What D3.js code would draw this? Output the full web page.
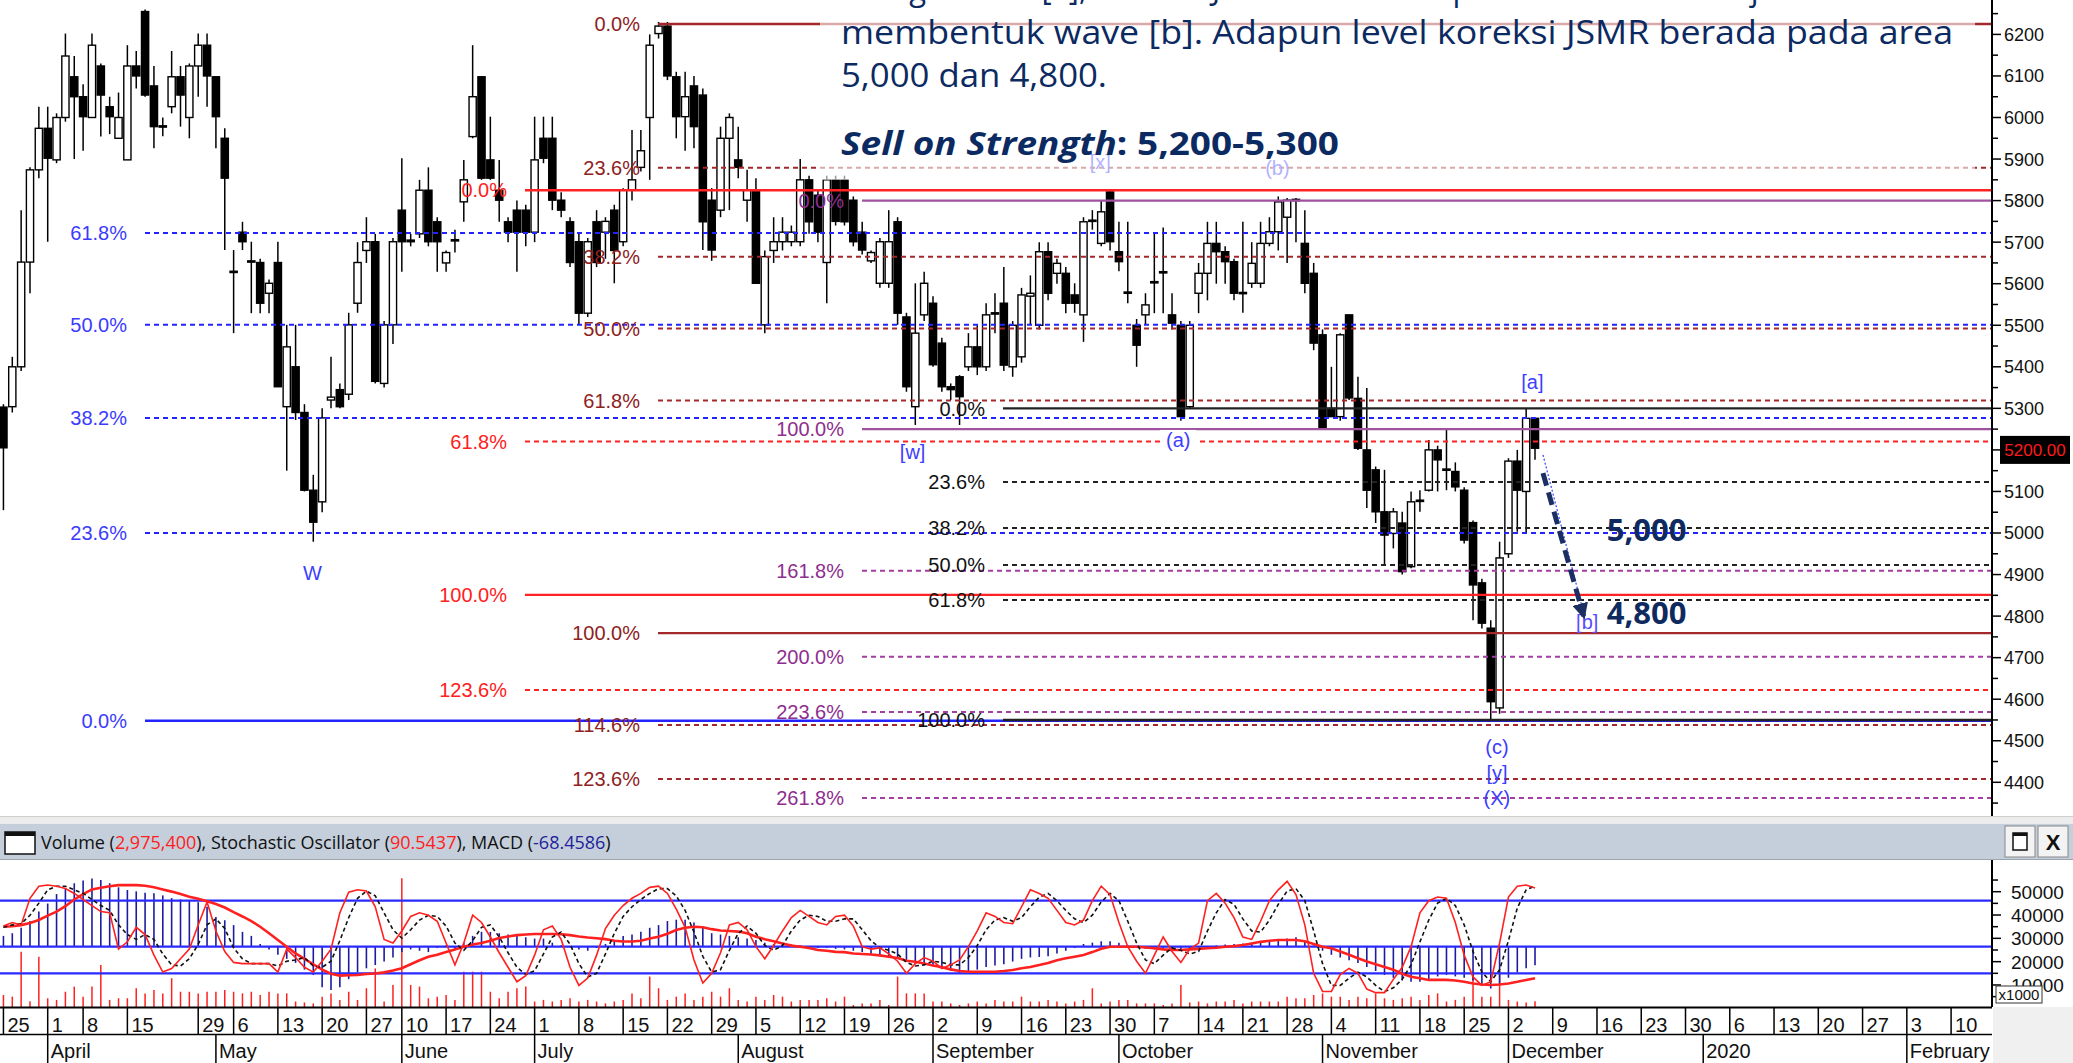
<!DOCTYPE html>
<html><head><meta charset="utf-8">
<script src="https://cdnjs.cloudflare.com/ajax/libs/d3/7.8.5/d3.min.js"></script>
<style>body{margin:0;background:#fff;overflow:hidden}svg{display:block}</style>
</head><body><svg id="c" width="2073" height="1063"></svg>
<script>
// ---------------- DATA ----------------
const openP=[5303,5304,5400,5652,5874,5974,5898,6000,6098,6050,
6000,6124,6026,5950,5898,6124,6255,6076,5980,6026,
6098,6000,6124,6174,6098,5950,5630,5724,5655,5651,
5577,5651,5304,5400,5290,5103,5075,5320,5345,5334,
5553,5680,5701,5360,5501,5777,5705,5720,5825,5749,
5650,5705,5797,5954,6098,5898,5825,5749,5777,5777,
5724,5950,5950,5801,5749,5701,5529,5749,5724,5777,
5701,5825,5880,6000,6202,6220,6098,6002,6076,6054,
5801,5777,5950,5898,5801,5825,5501,5680,5701,5701,
5701,5850,5813,5651,5850,5850,5801,5724,5655,5601,
5601,5749,5520,5304,5525,5553,5457,5352,5376,5400,
5448,5400,5530,5553,5400,5424,5570,5500,5677,5625,
5625,5573,5525,5750,5697,5821,5677,5580,5500,5525,
5604,5628,5525,5500,5304,5577,5625,5697,5677,5653,
5579,5601,5601,5697,5725,5760,5801,5697,5625,5477,
5300,5280,5525,5324,5200,5152,5051,4999,5024,4919,
5078,5103,5200,5152,5148,5103,5025,4880,4771,4579,
4950,5173,5100,5276];
const highP=[5310,5424,5777,5880,6026,6026,6010,6202,6148,6080,
6202,6130,6050,6060,6174,6160,6260,6124,6000,6160,
6124,6130,6202,6202,6100,5974,5681,5749,5701,5660,
5610,5701,5501,5501,5310,5140,5300,5424,5360,5530,
5700,5760,5720,5510,5710,5902,5720,5850,5880,5760,
5680,5730,5898,6174,6100,6002,5898,5760,5800,5790,
6002,6002,6002,5820,5760,5720,5710,5777,5760,5790,
5830,5970,5970,6200,6230,6230,6110,6110,6100,6070,
5830,5978,6010,5978,5874,5854,5680,5760,5760,5740,
5900,5860,5825,5860,5860,5860,5810,5749,5680,5710,
5777,5760,5530,5601,5629,5570,5470,5360,5380,5481,
5500,5553,5577,5640,5510,5590,5620,5700,5700,5660,
5640,5601,5760,5777,5801,5825,5749,5749,5515,5577,
5724,5735,5577,5510,5510,5650,5749,5749,5690,5660,
5749,5700,5749,5760,5810,5806,5806,5777,5650,5490,
5400,5481,5525,5376,5349,5160,5152,5060,5051,5100,
5103,5224,5210,5248,5170,5110,5030,4890,4790,4979,
5180,5200,5300,5276];
const lowP=[5055,5290,5390,5577,5854,5701,5890,5990,5900,5920,
6000,5954,5960,5950,5898,6070,6050,5926,5955,6010,
5978,5950,6050,6026,5926,5681,5481,5681,5529,5529,
5529,5352,5150,5272,5100,4979,5050,5300,5300,5320,
5530,5650,5360,5350,5455,5629,5690,5710,5690,5629,
5629,5675,5749,5950,5850,5850,5749,5700,5629,5690,
5700,5890,5777,5760,5640,5501,5520,5640,5660,5601,
5690,5800,5870,5850,6190,6090,5950,5920,5926,5681,
5655,5760,5777,5854,5749,5600,5481,5650,5680,5690,
5690,5720,5700,5553,5740,5740,5690,5670,5650,5590,
5590,5501,5340,5260,5510,5400,5340,5320,5260,5390,
5380,5390,5481,5390,5376,5410,5500,5490,5560,5600,
5529,5530,5460,5730,5690,5680,5630,5553,5400,5501,
5529,5529,5490,5270,5300,5529,5560,5600,5600,5560,
5530,5590,5590,5690,5680,5650,5700,5577,5440,5250,
5280,5270,5320,5200,5060,5024,4923,4963,4900,4915,
5051,5100,5100,5103,5100,4975,4790,4770,4550,4565,
4940,5003,5000,5176];
const closeP=[5205,5400,5652,5874,5974,5902,6000,6148,6050,6002,
6174,6054,6002,6000,6124,6100,6054,5978,5978,6098,
6054,6124,6174,6100,6002,5854,5629,5701,5655,5553,
5601,5352,5448,5290,5103,5026,5277,5327,5304,5501,
5651,5701,5365,5501,5701,5701,5701,5825,5701,5701,
5675,5706,5850,6050,5854,5854,5801,5724,5724,5724,
5898,5902,5801,5777,5651,5529,5701,5651,5750,5680,
5825,5850,5920,6174,6220,6100,6002,6050,5978,5749,
5681,5950,6000,5880,5825,5601,5665,5701,5724,5724,
5850,5749,5724,5850,5750,5749,5701,5681,5675,5701,
5701,5529,5352,5481,5601,5405,5352,5345,5328,5448,
5400,5525,5529,5404,5500,5573,5577,5677,5577,5649,
5553,5553,5749,5753,5773,5701,5653,5578,5452,5549,
5605,5629,5505,5280,5500,5625,5697,5677,5653,5577,
5578,5649,5697,5725,5797,5801,5803,5601,5457,5253,
5280,5477,5325,5204,5103,5051,4995,5051,4907,5075,
5079,5200,5176,5154,5111,4983,4875,4783,4594,4940,
5173,5103,5276,5204];
const volumeK=[5700,5000,24300,3000,22100,4300,3600,7100,9300,5000,
9300,18600,3600,4300,4300,8600,6400,7900,6400,12900,
7100,7100,6400,7100,7100,7900,7100,6400,7100,5700,
7100,6400,6400,2900,2500,2100,5000,6400,3600,7100,
3600,8600,17100,2900,10000,55800,10000,9300,4300,5000,
5700,3600,15700,15700,15700,7100,4300,7100,8600,9300,
2900,3600,2900,3600,4300,2900,3600,2900,2100,2900,
3600,6400,4300,13600,8600,3600,5000,6400,3600,5000,
7100,5000,8600,3600,2900,5000,3600,5700,5000,2900,
3600,3600,3600,4300,2900,5000,1400,2100,2100,3600,
1400,13600,6400,6400,6400,2900,2900,2100,1400,2100,
2900,2100,3600,2900,2900,5000,2900,2900,3600,2900,
2100,2900,3600,8600,2100,2900,3600,3600,2100,2100,
2100,1400,2100,10000,2500,2900,2100,2900,2900,3600,
2100,2900,2900,2900,2900,5000,4300,4300,5700,6400,
5000,5000,3600,5000,4300,6400,4300,3600,4300,5000,
3600,5700,6400,2900,3600,5000,15700,5000,5000,15700,
3600,2900,2500,2975];
const stochK=[59,62,60,82,92,93,92,90,86,81,
76,71,70,40,46,58,52,35,21,24,
32,40,60,79,55,38,29,28,28,28,
28,21,40,33,25,21,30,40,70,87,
89,88,75,48,45,55,67,70,68,63,
45,27,45,68,62,50,37,25,13,18,
35,56,59,48,25,10,16,35,57,68,
76,82,86,91,92,86,73,58,31,12,
20,37,60,62,56,42,32,43,55,66,
72,67,62,60,67,68,59,42,40,41,
36,30,20,28,33,30,24,27,31,42,
55,70,67,62,61,75,89,86,82,72,
62,60,64,80,92,85,62,42,30,20,
35,50,38,29,40,45,80,86,78,66,
50,48,63,80,89,96,85,60,20,5,
5,19,24,20,7,4,4,15,25,42,
70,80,83,82,62,35,17,10,13,45,
83,92,93,90.54];
const stochD=[58,60,61,68,78,89,92,92,89,86,
81,76,72,60,52,48,52,48,36,27,
26,32,44,60,65,57,41,32,28,28,
28,26,30,31,33,26,25,30,47,66,
82,88,84,70,56,49,56,64,68,67,
59,45,39,47,58,60,50,37,25,19,
22,36,50,54,44,28,17,20,36,53,
67,75,81,86,90,90,84,72,54,34,
21,23,39,53,59,53,43,39,43,55,
64,68,67,63,63,65,65,56,47,41,
39,36,29,26,27,30,29,27,27,33,
43,56,64,66,63,66,75,83,86,80,
72,65,62,68,79,86,80,63,45,31,
28,35,41,39,36,38,55,70,81,77,
65,55,54,64,77,88,90,80,55,28,
10,10,16,21,17,10,5,8,15,27,
46,64,78,82,76,60,38,21,13,23,
47,74,89,92];
const macdHist=[40,50,70,95,130,160,195,215,235,245,
253,247,235,220,210,205,200,198,190,180,
175,170,165,148,110,98,80,55,40,10,
-10,-30,-45,-60,-85,-105,-150,-160,-150,-120,
-95,-80,-68,-55,-40,-20,-10,-15,-20,-5,
5,-10,15,40,55,55,50,45,40,35,
30,30,15,5,0,-10,-15,-5,10,25,
40,45,55,70,80,95,100,100,90,70,
50,45,40,35,30,25,15,10,10,8,
5,0,-5,-5,-8,-10,-15,-20,-30,-35,
-40,-45,-55,-65,-70,-72,-80,-90,-100,-95,
-85,-75,-70,-65,-55,-45,-40,-38,-35,-25,
-15,-5,10,15,20,20,15,5,-5,-8,
-10,-8,-12,-15,-12,-8,0,5,8,10,
12,15,18,22,25,30,35,20,5,-15,
-30,-40,-50,-60,-75,-90,-105,-115,-125,-130,
-130,-120,-110,-105,-110,-115,-125,-140,-155,-140,
-115,-95,-80,-68.46];
const macdSignal=[74,76,80,88,99,115,130,150,175,195,
212,218,224,228,228,228,226,220,212,204,
195,185,178,168,158,145,128,112,95,74,
50,25,0,-25,-45,-65,-85,-100,-107,-106,
-105,-101,-99,-95,-88,-80,-65,-50,-37,-30,
-20,-10,0,8,14,22,32,38,43,45,
47,47,47,46,43,38,34,31,28,22,
19,19,22,30,37,48,62,70,74,72,
65,60,58,56,50,37,28,20,12,4,
0,-5,-12,-15,-19,-20,-25,-27,-29,-32,
-37,-42,-52,-56,-62,-70,-76,-84,-90,-93,
-93,-93,-93,-90,-86,-80,-75,-68,-60,-50,
-43,-37,-31,-20,-8,0,0,0,0,-3,
-6,-10,-12,-12,-10,-8,-6,-4,0,2,
6,12,18,22,25,25,25,20,10,0,
-6,-18,-30,-43,-55,-65,-75,-85,-100,-111,
-117,-123,-123,-123,-125,-130,-136,-140,-142,-140,
-136,-130,-123,-117];

const priceTicks=[4400,4500,4600,4700,4800,4900,5000,5100,5200,5300,5400,5500,5600,5700,5800,5900,6000,6100,6200];
const volTicks=[10000,20000,30000,40000,50000];
const weekTickIdx=[0,5,9,14,22,26,31,36,41,45,50,55,60,65,70,75,80,85,90,95,100,105,110,115,120,125,130,135,140,145,150,155,160,165,170,175,180,185,190,195,200,205,210,215,220];
const weekTickLabels=["25","1","8","15","29","6","13","20","27","10","17","24","1","8","15","22","29","5","12","19","26","2","9","16","23","30","7","14","21","28","4","11","18","25","2","9","16","23","30","6","13","20","27","3","10"];
const monthIdx=[5,24,45,60,83,105,126,149,170,192,215];
const monthLabels=["April","May","June","July","August","September","October","November","December","2020","February"];

const fibBlueLabels=["0.0%","23.6%","38.2%","50.0%","61.8%"];
const fibBluePrices=[4548,5000,5277,5501,5722];
const fibDarkLabels=["0.0%","23.6%","38.2%","50.0%","61.8%","100.0%","114.6%","123.6%"];
const fibDarkPrices=[6225,5879,5665,5492,5319,4759,4538,4408];
const fibRedLabels=["0.0%","61.8%","100.0%","123.6%"];
const fibRedPrices=[5825,5220,4851,4622];
const fibPurpleLabels=["0.0%","100.0%","161.8%","200.0%","223.6%","261.8%"];
const fibPurplePrices=[5800,5250,4909,4702,4569,4362];
const fibBlackLabels=["0.0%","23.6%","38.2%","50.0%","61.8%","100.0%"];
const fibBlackPrices=[5300,5123,5012,4923,4839,4550];

const waveLabels=["W","[w]","(a)","[x]","(b)","[a]","(c)","[y]","(X)","[b]"];
const waveIdx=[34.9,102.7,132.7,123.9,143.9,172.7,168.7,168.7,168.7,178.9];
const wavePrice=[4904,5195,5224,5893,5878,5363,4485,4424,4362,4786];
const targetLabels=["5,000","4,800"];
const targetPrices=[5007,4807];
const lastPrice=5200;

const textLines=["sebagai wave [a], dimana JSMR saat ini berpotensi untuk melanjutkan koreksi",
"membentuk wave [b]. Adapun level koreksi JSMR berada pada area",
"5,000 dan 4,800."];
const sellLabel=["Sell on Strength",": 5,200-5,300"];

// --------------- SCALES ---------------
const svg=d3.select("#c");
const AX=1992;
const x=d3.scaleLinear().domain([0,220]).range([3.44,3.44+8.853*220]);
const yP=d3.scaleLinear().domain([4400,6200]).range([782.3,34.4]);
const yVol=d3.scaleLinear().domain([0,50000]).range([1008.3,891.7]);
const yStoch=d3.scaleLinear().domain([0,100]).range([997.5,876.5]);
const yMacd=d3.scaleLinear().domain([0,100]).range([946.7,919.7]);
const F="'Liberation Sans',Arial,sans-serif";

const defs=svg.append("defs");
defs.append("clipPath").attr("id","cm").append("rect").attr("x",0).attr("y",0).attr("width",AX).attr("height",816);
defs.append("clipPath").attr("id","ci").append("rect").attr("x",0).attr("y",860).attr("width",AX).attr("height",147);
defs.append("marker").attr("id","ah").attr("viewBox","0 0 10 10").attr("refX",8).attr("refY",5)
 .attr("markerWidth",3.2).attr("markerHeight",3.2).attr("orient","auto")
 .append("path").attr("d","M0,0L10,5L0,10z").attr("fill","#1b2f63");

svg.append("rect").attr("width",2073).attr("height",1063).attr("fill","#fff");

// --------------- CANDLES ---------------
const n=openP.length;
const candles=d3.range(n).map(i=>({i,o:openP[i],h:highP[i],l:lowP[i],c:closeP[i]}));
const gC=svg.append("g").attr("clip-path","url(#cm)");
gC.selectAll("line.wk").data(candles).join("line").attr("class","wk")
 .attr("x1",d=>x(d.i)).attr("x2",d=>x(d.i)).attr("y1",d=>yP(d.h)).attr("y2",d=>yP(d.l))
 .attr("stroke","#000").attr("stroke-width",1.5);
gC.selectAll("rect.bd").data(candles).join("rect").attr("class","bd")
 .attr("x",d=>x(d.i)-3.6).attr("width",7.2)
 .attr("y",d=>yP(Math.max(d.o,d.c)))
 .attr("height",d=>Math.max(1.3,Math.abs(yP(d.o)-yP(d.c))))
 .attr("fill",d=>d.c>=d.o?"#fff":"#000").attr("stroke","#000").attr("stroke-width",1.4);

// --------------- FIB LINES ---------------
const gF=svg.append("g").attr("clip-path","url(#cm)");
function fib(labels,prices,lineCol,solidCol,txtCol,labelRight,lineStart){
  labels.forEach((lab,k)=>{
    const yy=yP(prices[k]);const solid=(lab==="0.0%"||lab==="100.0%");
    gF.append("line").attr("x1",lineStart).attr("x2",AX).attr("y1",yy).attr("y2",yy)
      .attr("stroke",solid?solidCol:lineCol).attr("stroke-width",solid?2.4:2)
      .attr("stroke-dasharray",solid?null:"5,4");
    gF.append("text").attr("x",labelRight).attr("y",yy).attr("dy","0.36em").attr("text-anchor","end")
      .attr("fill",txtCol).style("font","20px "+F).text(lab);
  });
}
fib(fibBlueLabels,fibBluePrices,"#2323ff","#2323ff","#3b3bff",127,145);
fib(fibDarkLabels,fibDarkPrices,"#a3282b","#a3282b","#8e2222",640,658);
fib(fibRedLabels,fibRedPrices,"#ff2222","#ff2222","#ff2020",507,525);
fib(fibPurpleLabels,fibPurplePrices,"#a33ea3","#a052a0","#8e2e8e",844,862);
fib(fibBlackLabels,fibBlackPrices,"#222","#222","#111",985,1003);

// --------------- WAVE LABELS ---------------
const gW=svg.append("g");
waveLabels.forEach((w,k)=>{
  const cx=x(waveIdx[k]),cy=yP(wavePrice[k]);
  if(w==="(a)") gW.append("rect").attr("x",cx-18).attr("y",cy-10).attr("width",36).attr("height",20).attr("fill","#fff");
  gW.append("text").attr("x",cx).attr("y",cy).attr("dy","0.36em").attr("text-anchor","middle")
    .attr("fill",w==="[b]"?"#5a4cff":"#3d3dff").style("font","20px "+F).text(w);
});

// --------------- TEXT BLOCK ---------------
svg.append("rect").attr("x",820).attr("y",0).attr("width",1155).attr("height",180).attr("fill","#fff").attr("opacity",0.6);
const TF="'Open Sans','Noto Sans',sans-serif";
const navy="#0c2a62";
svg.append("text").attr("x",841).attr("y",0).attr("fill",navy).style("font","32px "+TF)
  .attr("textLength",1112).attr("lengthAdjust","spacingAndGlyphs").text(textLines[0]);
svg.append("text").attr("x",841).attr("y",44).attr("fill",navy).style("font","32px "+TF)
  .attr("textLength",1112).attr("lengthAdjust","spacingAndGlyphs").text(textLines[1]);
svg.append("text").attr("x",841).attr("y",87).attr("fill",navy).style("font","32px "+TF)
  .attr("textLength",266).attr("lengthAdjust","spacingAndGlyphs").text(textLines[2]);
const st=svg.append("text").attr("x",841).attr("y",155).attr("fill",navy).style("font","bold 32px "+TF)
  .attr("textLength",498).attr("lengthAdjust","spacingAndGlyphs");
st.append("tspan").style("font-style","italic").text(sellLabel[0]);
st.append("tspan").text(sellLabel[1]);

// --------------- TARGETS & ARROW ---------------
targetLabels.forEach((t,k)=>{
  svg.append("text").attr("x",x(181.1)).attr("y",yP(targetPrices[k])).attr("dy","0.36em")
    .attr("fill","#0e2a5e").style("font","bold 31px "+TF).text(t);
});
svg.append("line").attr("x1",x(173.9)).attr("y1",yP(5188)).attr("x2",x(178.4)).attr("y2",yP(4815))
  .attr("stroke","#3344ff").attr("stroke-width",1.2).attr("stroke-dasharray","2,2");
svg.append("line").attr("x1",x(173.9)).attr("y1",yP(5144)).attr("x2",x(178.5)).attr("y2",yP(4800))
  .attr("stroke","#1b2f63").attr("stroke-width",5).attr("stroke-dasharray","13,7").attr("marker-end","url(#ah)");

// --------------- PRICE AXIS ---------------
const gA=svg.append("g");
gA.append("line").attr("x1",AX).attr("x2",AX).attr("y1",0).attr("y2",816).attr("stroke","#000").attr("stroke-width",2);
d3.range(4350,6300,50).filter(v=>yP(v)>2&&yP(v)<814).forEach(v=>{
  const major=v%100===0;
  gA.append("line").attr("x1",AX).attr("x2",AX+(major?9:6)).attr("y1",yP(v)).attr("y2",yP(v)).attr("stroke","#000").attr("stroke-width",1.5);
});
priceTicks.filter(v=>Math.abs(yP(v)-yP(lastPrice))>16).forEach(v=>{
  gA.append("text").attr("x",2004).attr("y",yP(v)).attr("dy","0.36em").attr("fill","#111").style("font","18px "+F).text(v);
});
gA.append("rect").attr("x",2000).attr("y",yP(lastPrice)-14).attr("width",70).attr("height",28).attr("fill","#000");
gA.append("text").attr("x",2035).attr("y",yP(lastPrice)).attr("dy","0.36em").attr("text-anchor","middle")
  .attr("fill","#ff1a1a").style("font","17px "+F).text(lastPrice.toFixed(2));

// separator between panels
svg.append("rect").attr("x",0).attr("y",816).attr("width",2073).attr("height",7).attr("fill","#ececec");
svg.append("line").attr("x1",0).attr("x2",2073).attr("y1",816.5).attr("y2",816.5).attr("stroke","#cfcfcf");

// --------------- INDICATOR HEADER ---------------
svg.append("rect").attr("x",0).attr("y",823).attr("width",2073).attr("height",37).attr("fill","#c4cfdb");
svg.append("line").attr("x1",0).attr("x2",2073).attr("y1",823.5).attr("y2",823.5).attr("stroke","#e8ecf0");
svg.append("line").attr("x1",0).attr("x2",2073).attr("y1",859.5).attr("y2",859.5).attr("stroke","#9aa5b0");
svg.append("rect").attr("x",5).attr("y",832).attr("width",30).attr("height",22).attr("fill","#fff").attr("stroke","#111").attr("stroke-width",1.5);
svg.append("rect").attr("x",5).attr("y",832).attr("width",30).attr("height",4).attr("fill","#111");
const ht=svg.append("text").attr("x",41).attr("y",849).style("font","18px "+TF).attr("fill","#111");
[["Volume (","#111"],["2,975,400","#ff2020"],["), Stochastic Oscillator (","#111"],["90.5437","#ff2020"],["), MACD (","#111"],["-68.4586","#22229a"],[")","#111"]]
 .forEach(p=>ht.append("tspan").attr("fill",p[1]).text(p[0]));
[[2005,"max"],[2038,"X"]].forEach(b=>{
  svg.append("rect").attr("x",b[0]).attr("y",826).attr("width",30).attr("height",31).attr("fill","#f3f3f3").attr("stroke","#888");
  if(b[1]==="X") svg.append("text").attr("x",b[0]+15).attr("y",842).attr("dy","0.36em").attr("text-anchor","middle").style("font","bold 22px "+F).attr("fill","#111").text("X");
  else { svg.append("rect").attr("x",b[0]+8).attr("y",833).attr("width",14).attr("height",17).attr("fill","#fff").attr("stroke","#111").attr("stroke-width",1.5);
         svg.append("rect").attr("x",b[0]+8).attr("y",833).attr("width",14).attr("height",3).attr("fill","#111"); }
});

// --------------- INDICATOR PLOT ---------------
const gI=svg.append("g").attr("clip-path","url(#ci)");
gI.selectAll("line.v").data(d3.range(n)).join("line").attr("class","v")
 .attr("x1",i=>x(i)).attr("x2",i=>x(i)).attr("y1",yVol(0)).attr("y2",i=>yVol(volumeK[i]))
 .attr("stroke","#ff2020").attr("stroke-width",1.5);
gI.selectAll("line.m").data(d3.range(n)).join("line").attr("class","m")
 .attr("x1",i=>x(i)).attr("x2",i=>x(i)).attr("y1",yMacd(0)).attr("y2",i=>yMacd(macdHist[i]))
 .attr("stroke","#1c1ca0").attr("stroke-width",1.6);
[yStoch(80),yMacd(0),yStoch(20)].forEach(yy=>{
  gI.append("line").attr("x1",0).attr("x2",AX).attr("y1",yy).attr("y2",yy).attr("stroke","#2a2aff").attr("stroke-width",2.2);
});
const lineOf=(arr,ys)=>d3.line().x(i=>x(i)).y(i=>ys(arr[i]))(d3.range(n));
gI.append("path").attr("d",lineOf(macdSignal,yMacd)).attr("fill","none").attr("stroke","#ff2020").attr("stroke-width",2.6);
gI.append("path").attr("d",lineOf(stochD,yStoch)).attr("fill","none").attr("stroke","#111").attr("stroke-width",1.6).attr("stroke-dasharray","4,3");
gI.append("path").attr("d",lineOf(stochK,yStoch)).attr("fill","none").attr("stroke","#ff2020").attr("stroke-width",1.6);

// indicator axis
svg.append("line").attr("x1",AX).attr("x2",AX).attr("y1",860).attr("y2",1007).attr("stroke","#000").attr("stroke-width",2);
d3.range(5000,60000,5000).filter(v=>yVol(v)>861).forEach(v=>{
  svg.append("line").attr("x1",AX).attr("x2",AX+(v%10000===0?9:6)).attr("y1",yVol(v)).attr("y2",yVol(v)).attr("stroke","#000").attr("stroke-width",1.5);
});
volTicks.forEach(v=>svg.append("text").attr("x",2011).attr("y",yVol(v)).attr("dy","0.36em").style("font","19px "+F).attr("fill","#111").text(v));
svg.append("rect").attr("x",1996).attr("y",986).attr("width",46).attr("height",17).attr("fill","#fff").attr("stroke","#333");
svg.append("text").attr("x",2019).attr("y",995).attr("dy","0.36em").attr("text-anchor","middle").style("font","15px "+F).attr("fill","#111").text("x1000");

// --------------- DATE AXIS ---------------
svg.append("rect").attr("x",AX+1).attr("y",1007).attr("width",2073-AX).attr("height",56).attr("fill","#f0f0f0");
const gD=svg.append("g");
gD.append("line").attr("x1",0).attr("x2",AX).attr("y1",1007.5).attr("y2",1007.5).attr("stroke","#000").attr("stroke-width",2);
gD.append("line").attr("x1",0).attr("x2",AX).attr("y1",1034.5).attr("y2",1034.5).attr("stroke","#000").attr("stroke-width",1.5);
weekTickIdx.forEach((ix,k)=>{
  const xx=x(ix);
  gD.append("line").attr("x1",xx).attr("x2",xx).attr("y1",1007).attr("y2",1034).attr("stroke","#000").attr("stroke-width",1.5);
  gD.append("text").attr("x",xx+4).attr("y",1032).style("font","20px "+F).attr("fill","#111").text(weekTickLabels[k]);
});
monthIdx.forEach((ix,k)=>{
  const xx=x(ix);
  gD.append("line").attr("x1",xx).attr("x2",xx).attr("y1",1034).attr("y2",1063).attr("stroke","#000").attr("stroke-width",1.5);
  gD.append("text").attr("x",xx+3).attr("y",1058).style("font","20px "+F).attr("fill","#111").text(monthLabels[k]);
});
</script></body></html>
